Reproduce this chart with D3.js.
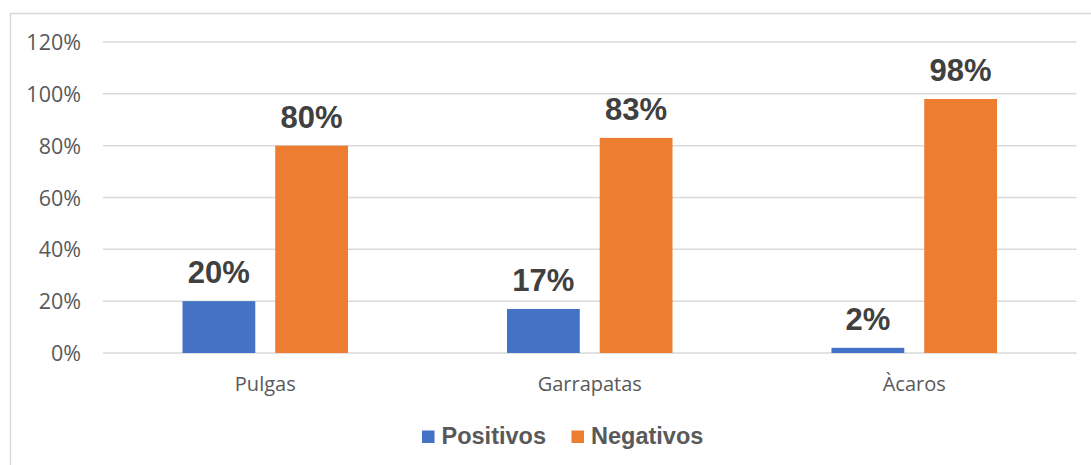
<!DOCTYPE html>
<html>
<head>
<meta charset="utf-8">
<script src="https://cdn.jsdelivr.net/npm/d3@7"></script>
<style>
  html, body { margin: 0; padding: 0; background: #ffffff; }
  svg { display: block; }
</style>
</head>
<body>
<svg id="chart" width="1091" height="465"></svg>
<script>
const categories = ["Pulgas", "Garrapatas", "Àcaros"];
const seriesNames = ["Positivos", "Negativos"];
const positivos = [20, 17, 2];
const negativos = [80, 83, 98];
const yTicks = [0, 20, 40, 60, 80, 100, 120];
const colors = ["#4472C4", "#ED7D31"];

const data = categories.map((c, i) => ({ cat: c, values: [positivos[i], negativos[i]] }));

const svg = d3.select("#chart");

// outer chart border (partially visible)
svg.append("rect")
  .attr("x", 10.5).attr("y", 13.5)
  .attr("width", 1100).attr("height", 500)
  .attr("fill", "none").attr("stroke", "#d9d9d9").attr("stroke-width", 1.5);

const plot = { left: 103, right: 1076.5, top: 42, bottom: 353 };

const y = d3.scaleLinear().domain([0, 120]).range([plot.bottom, plot.top]);
const x0 = d3.scaleBand().domain(categories).range([plot.left, plot.right]).paddingInner(0.49).paddingOuter(0.245);
const x1 = d3.scaleBand().domain(seriesNames).range([0, x0.bandwidth()]).paddingInner(0.215).paddingOuter(0);

// gridlines
svg.append("g").selectAll("line").data(yTicks).join("line")
  .attr("x1", plot.left).attr("x2", plot.right)
  .attr("y1", d => y(d)).attr("y2", d => y(d))
  .attr("stroke", "#d9d9d9").attr("stroke-width", 1.5);

// y axis labels
const yAxis = d3.axisLeft(y).tickValues(yTicks).tickFormat(d => d + "%").tickSize(0).tickPadding(0);
const gy = svg.append("g").attr("transform", `translate(81,0)`).call(yAxis);
gy.select(".domain").remove();
gy.selectAll("text")
  .attr("font-family", "'Open Sans', sans-serif")
  .attr("font-size", "21.5px")
  .attr("fill", "#595959")
  .attr("dy", "0.35em");

// x axis labels
const xAxis = d3.axisBottom(x0).tickSize(0).tickPadding(0);
const gx = svg.append("g").attr("transform", `translate(0,${plot.bottom})`).call(xAxis);
gx.select(".domain").remove();
gx.selectAll("text")
  .attr("font-family", "'Open Sans', sans-serif")
  .attr("font-size", "20px")
  .attr("fill", "#595959")
  .attr("y", 38).attr("dy", 0);

// bars
const groups = svg.append("g").selectAll("g").data(data).join("g")
  .attr("transform", d => `translate(${x0(d.cat)},0)`);

groups.selectAll("rect").data(d => d.values.map((v, i) => ({ v, s: seriesNames[i], i }))).join("rect")
  .attr("x", d => x1(d.s))
  .attr("y", d => y(d.v))
  .attr("width", x1.bandwidth())
  .attr("height", d => y(0) - y(d.v))
  .attr("fill", d => colors[d.i]);

groups.selectAll("text.val").data(d => d.values.map((v, i) => ({ v, s: seriesNames[i], i }))).join("text")
  .attr("class", "val")
  .attr("x", d => x1(d.s) + x1.bandwidth() / 2)
  .attr("y", d => y(d.v) - 18)
  .attr("text-anchor", "middle")
  .attr("font-family", "'Liberation Sans', Arial, sans-serif")
  .attr("font-weight", "bold")
  .attr("font-size", "31px")
  .attr("fill", "#404040")
  .text(d => d.v + "%");

// legend
const legendItems = [
  { name: seriesNames[0], color: colors[0], x: 422 },
  { name: seriesNames[1], color: colors[1], x: 571.5 }
];
const lg = svg.append("g").selectAll("g").data(legendItems).join("g")
  .attr("transform", d => `translate(${d.x},0)`);
lg.append("rect").attr("x", 0).attr("y", 430.5).attr("width", 12.5).attr("height", 12.5)
  .attr("fill", d => d.color);
lg.append("text").attr("x", 19.5).attr("y", 443.5)
  .attr("font-family", "'Liberation Sans', Arial, sans-serif")
  .attr("font-weight", "bold")
  .attr("font-size", "23.5px")
  .attr("fill", "#595959")
  .text(d => d.name);
</script>
</body>
</html>
